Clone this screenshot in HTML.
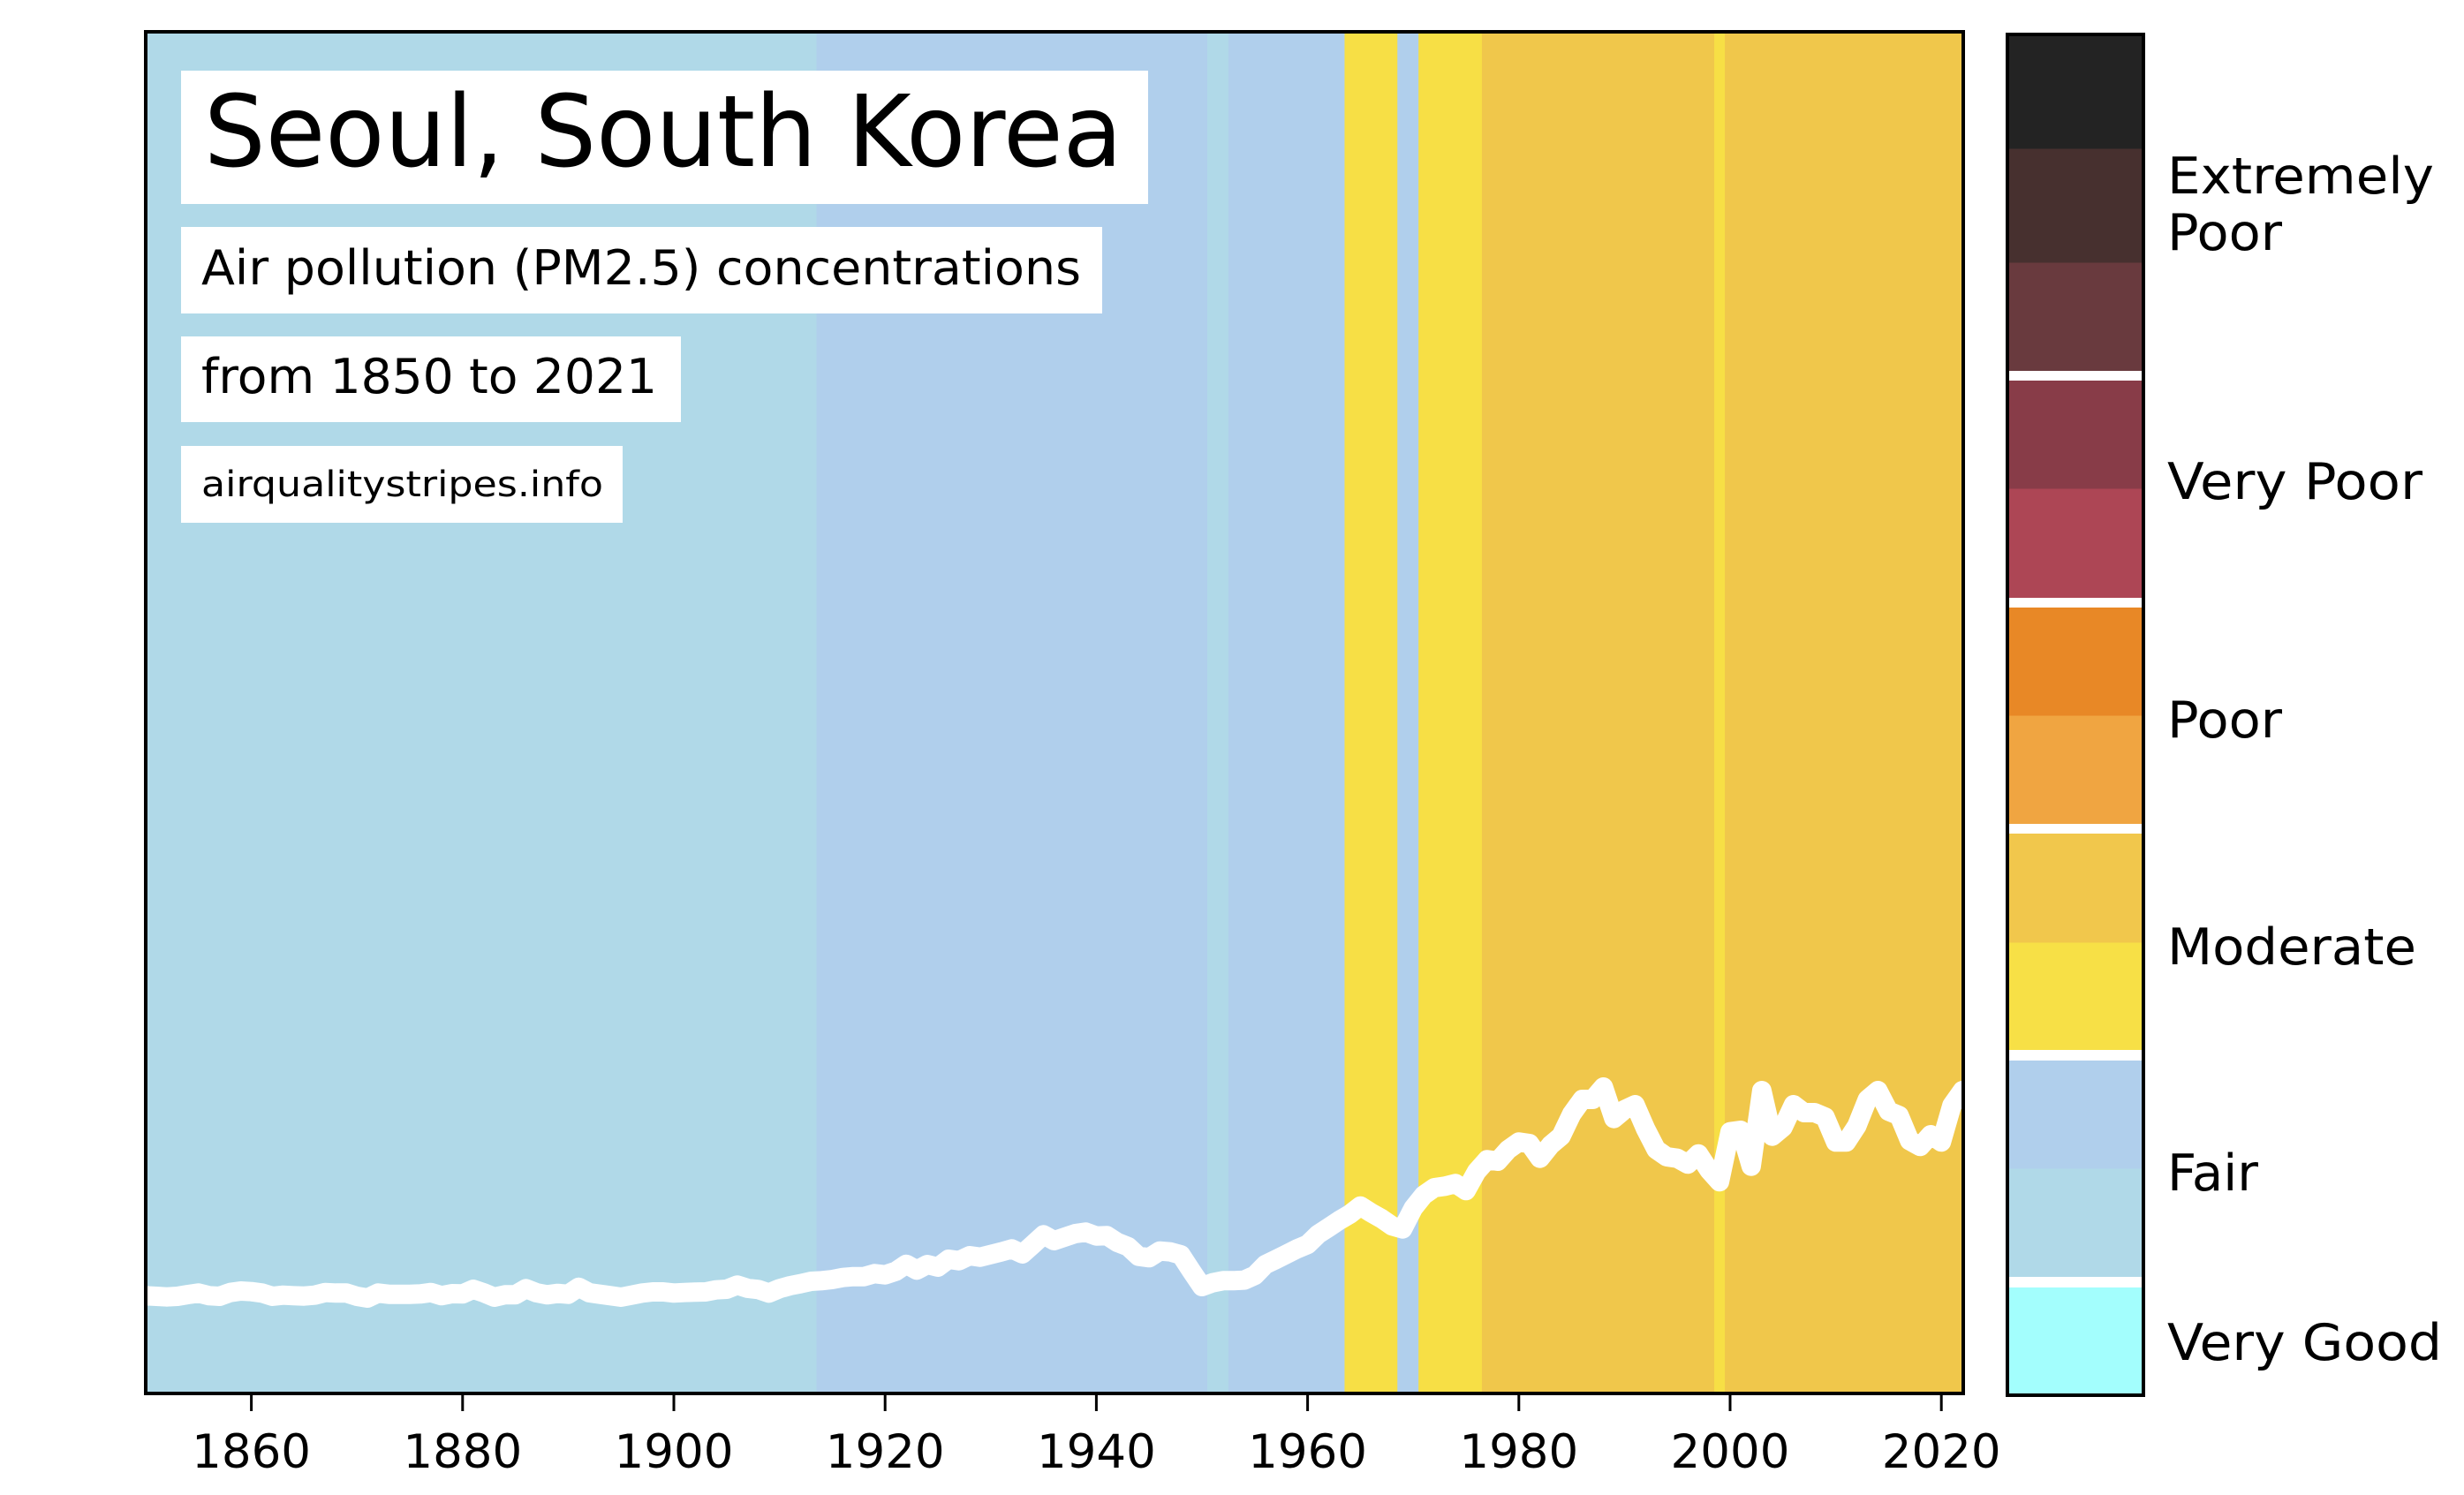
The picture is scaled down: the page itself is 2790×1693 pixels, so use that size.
<!DOCTYPE html>
<html><head><meta charset="utf-8">
<style>
html,body{margin:0;padding:0;background:#fff;}
svg{display:block;font-family:"DejaVu Sans","Liberation Sans",sans-serif;}
</style></head>
<body>
<svg id="chart" width="2790" height="1693" viewBox="0 0 2790 1693" xmlns="http://www.w3.org/2000/svg">
  <defs><clipPath id="plotclip"><rect x="165" y="36" width="2058" height="1542"/></clipPath></defs>
  <g id="stripes" clip-path="url(#plotclip)"></g>
  <g id="line" clip-path="url(#plotclip)"></g>
  <rect x="165" y="36" width="2058" height="1542" fill="none" stroke="#000" stroke-width="4"/>
  <g id="xaxis"></g>

  <rect x="205" y="80" width="1095" height="151" fill="#fff"/>
  <text x="231" y="188" font-size="112" textLength="1040" lengthAdjust="spacingAndGlyphs">Seoul, South Korea</text>
  <rect x="205" y="257" width="1043" height="98" fill="#fff"/>
  <text x="228" y="322" font-size="54" textLength="996" lengthAdjust="spacingAndGlyphs">Air pollution (PM2.5) concentrations</text>
  <rect x="205" y="381" width="566" height="97" fill="#fff"/>
  <text x="228" y="445" font-size="54" textLength="516" lengthAdjust="spacingAndGlyphs">from 1850 to 2021</text>
  <rect x="205" y="505" width="500" height="87" fill="#fff"/>
  <text x="228" y="562" font-size="40" textLength="455" lengthAdjust="spacingAndGlyphs">airqualitystripes.info</text>

  <g id="cbar"></g>
</svg>
<script>
const years = [];
for (let y = 1850; y <= 2022; y++) years.push(y);
const pm25 = [
11.77,11.7,11.63,11.7,11.9,12.07,11.77,11.7,12.13,12.3,
12.23,12.07,11.7,11.83,11.77,11.73,11.83,12.13,12.07,12.07,
11.7,11.5,12.07,11.93,11.93,11.93,11.97,12.13,11.77,12.0,
11.97,12.5,12.1,11.6,11.87,11.87,12.57,12.1,11.87,12.03,
11.93,12.73,12.1,11.93,11.77,11.6,11.83,12.07,12.2,12.2,
12.07,12.13,12.17,12.2,12.43,12.5,12.97,12.6,
12.47,12.07,12.57,12.9,13.13,13.4,13.47,13.6,13.83,13.93,
13.93,14.27,14.13,14.53,15.33,14.67,15.3,15.0,15.9,15.73,
16.3,16.13,16.43,16.73,17.07,16.5,17.57,18.67,18.0,18.4,
18.8,18.97,18.53,18.57,17.8,17.33,16.23,16.07,16.83,16.73,
16.4,14.57,12.8,13.23,13.47,13.47,13.53,14.07,15.3,15.87,
16.47,17.07,17.57,18.73,19.5,
20.3,21.0,21.93,21.17,20.5,19.67,19.33,21.67,23.17,24.0,
24.17,24.47,23.67,25.83,27.17,27.0,28.33,29.17,29.0,27.33,
28.83,29.83,32.33,34.0,34.0,35.4,31.83,32.83,33.4,30.67,
28.33,27.5,27.33,26.67,27.83,26.0,24.67,30.33,30.5,26.43,
35.0,29.83,30.83,33.4,32.5,32.5,32.0,29.17,29.17,31.0,
34.0,35.0,32.67,32.17,29.33,28.67,30.0,29.17,33.33,35.0
];
const stripeRunStart = [1850,1914,1951,1953,1964,1969,1971,1977,1999,2000];
const stripeRunEnd   = [1913,1950,1952,1963,1968,1970,1976,1998,1999,2022];
const stripeRunCat   = [0,1,0,1,2,1,2,3,2,3];
const catColors = ["#b0d9e8","#b0cfec","#f7df45","#f0c74b"];
const xTicks = [1860,1880,1900,1920,1940,1960,1980,2000,2020];
const cbarColors = ["#a3fefd","#b0d9e8","#b0cfec","#f7e046","#f1c74c","#f0a541","#e88826","#ad4655","#883c48","#693a3e","#47302f","#232323"];
const cbarLabels = ["Very Good","Fair","Moderate","Poor","Very Poor","Extremely|Poor"];

const NS = "http://www.w3.org/2000/svg";
const X0 = 165, PX = 11.96;
function xs(t){ return X0 + (t - 1850) * PX; }
function ys(v){ return 1585 - v * 10; }

const sg = document.getElementById('stripes');
for (let i = 0; i < stripeRunStart.length; i++) {
  const r = document.createElementNS(NS,'rect');
  
  
  const x1 = xs(stripeRunStart[i] - 0.5), x2 = xs(stripeRunEnd[i] + 0.5);
  r.setAttribute('x', x1); r.setAttribute('y', 36);
  r.setAttribute('width', x2 - x1 + 0.5); r.setAttribute('height', 1542);
  r.setAttribute('fill', catColors[stripeRunCat[i]]);
  sg.appendChild(r);
}

const lg = document.getElementById('line');
const p = document.createElementNS(NS,'polyline');


p.setAttribute('points', years.map((y,i)=>xs(y).toFixed(1)+','+ys(pm25[i]).toFixed(1)).join(' '));
p.setAttribute('fill','none'); p.setAttribute('stroke','#fff');
p.setAttribute('stroke-width','22'); p.setAttribute('stroke-linejoin','round'); p.setAttribute('stroke-linecap','round');
lg.appendChild(p);

const xa = document.getElementById('xaxis');
xTicks.forEach(t=>{
  const l = document.createElementNS(NS,'line');
  
  
  l.setAttribute('x1', xs(t)); l.setAttribute('x2', xs(t));
  l.setAttribute('y1', 1578); l.setAttribute('y2', 1598);
  l.setAttribute('stroke','#000'); l.setAttribute('stroke-width','3');
  xa.appendChild(l);
  const tx = document.createElementNS(NS,'text');
  
  
  tx.setAttribute('x', xs(t)); tx.setAttribute('y', 1662);
  tx.setAttribute('font-size','53'); tx.setAttribute('text-anchor','middle');
  tx.textContent = t;
  xa.appendChild(tx);
});

const cb = document.getElementById('cbar');
const segTop = [1458,1323,1201,1067,944,810,687,553,431,297,168,39];
const segBot = [1580,1446,1323,1189,1067,933,810,677,553,420,297,168];
cbarColors.forEach((c,i)=>{
  const r = document.createElementNS(NS,'rect');
  
  
  r.setAttribute('x', 2273); r.setAttribute('y', segTop[i]);
  r.setAttribute('width', 154); r.setAttribute('height', segBot[i]-segTop[i]+0.5);
  r.setAttribute('fill', c);
  cb.appendChild(r);
});
[1446,1189,933,677,420].forEach(y=>{
  const r = document.createElementNS(NS,'rect');
  
  
  r.setAttribute('x', 2273); r.setAttribute('y', y); r.setAttribute('width', 154); r.setAttribute('height', 11);
  r.setAttribute('fill', '#fff');
  cb.appendChild(r);
});
const fr = document.createElementNS(NS,'rect');


fr.setAttribute('x', 2273); fr.setAttribute('y', 39); fr.setAttribute('width', 154); fr.setAttribute('height', 1541);
fr.setAttribute('fill','none'); fr.setAttribute('stroke','#000'); fr.setAttribute('stroke-width','4');
cb.appendChild(fr);
const labY = [[1540],[1348],[1092],[835],[565],[219,283]];
const labW = [[311],[103],[282],[130],[289],[302,130]];
cbarLabels.forEach((lab,i)=>{
  lab.split('|').forEach((part,j)=>{
    const t = document.createElementNS(NS,'text');
    
    
    t.setAttribute('x', 2454); t.setAttribute('y', labY[i][j]);
    t.setAttribute('font-size','57');
    t.setAttribute('textLength', labW[i][j]); t.setAttribute('lengthAdjust','spacingAndGlyphs');
    t.textContent = part;
    cb.appendChild(t);
  });
});
</script>
</body></html>
